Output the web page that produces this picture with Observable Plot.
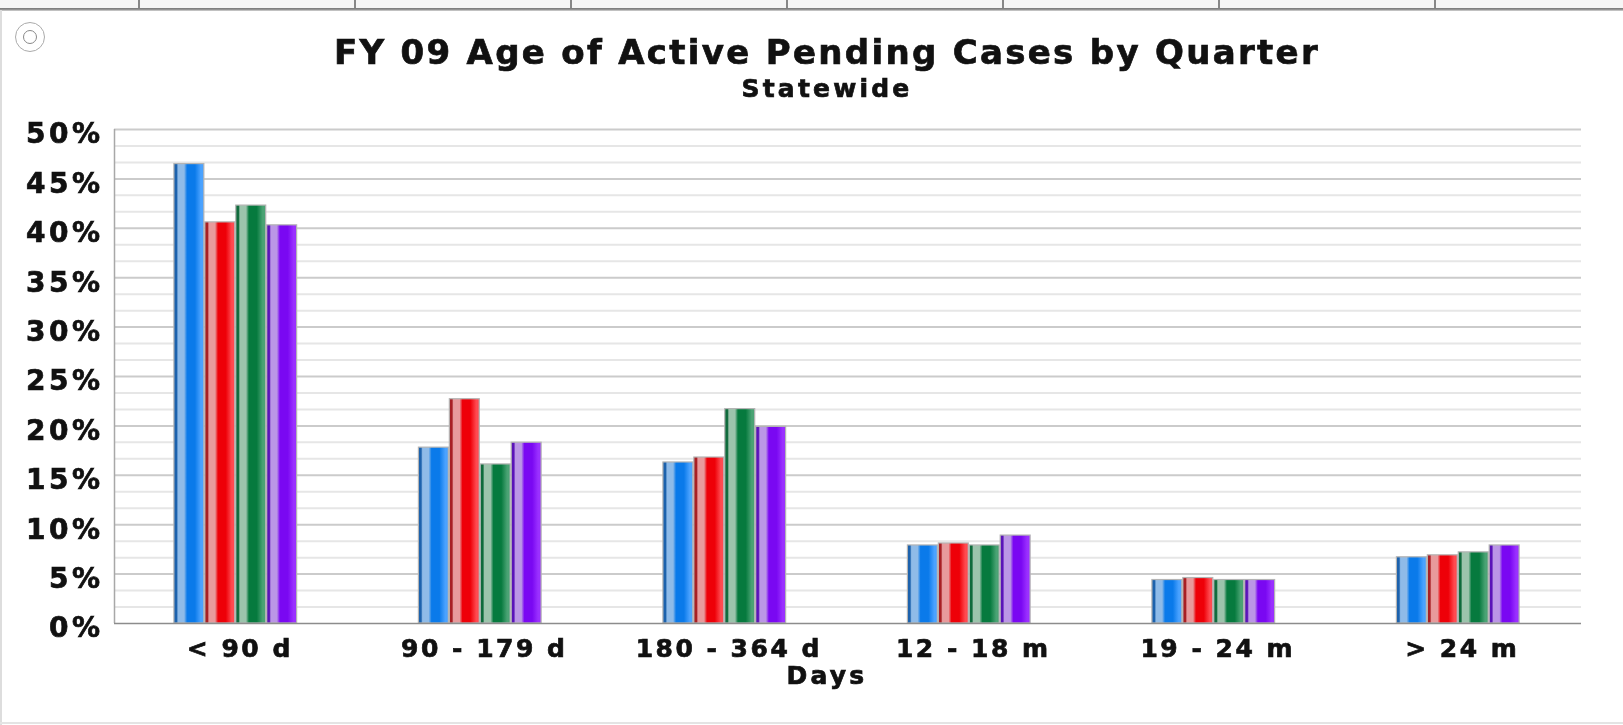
<!DOCTYPE html>
<html>
<head>
<meta charset="utf-8">
<script src="https://cdn.jsdelivr.net/npm/d3@7"></script>
<script src="https://cdn.jsdelivr.net/npm/@observablehq/plot@0.6"></script>
<style>
html,body{margin:0;padding:0;background:#fff;width:1623px;height:725px;overflow:hidden}
#page{position:relative;width:1623px;height:725px;font-family:"DejaVu Sans",sans-serif;font-weight:bold;color:#111;filter:blur(0.7px)}
#page>svg{position:absolute;left:0;top:0}
#page svg [aria-label="y-axis tick label"]{letter-spacing:3.5px;stroke:#111;stroke-width:0.7px}
#page svg [aria-label="x-axis tick label"]{letter-spacing:2.5px;stroke:#111;stroke-width:0.7px}
.abs{position:absolute;white-space:nowrap}
.ctr{transform:translateX(-50%);-webkit-text-stroke:0.7px #111}
#topband{left:0;top:0;width:1623px;height:8px;background:#f6f6f6}
#topline{left:0;top:8px;width:1623px;height:3px;background:linear-gradient(#777,#999 60%,#ddd)}
#leftline{left:0;top:10px;width:2px;height:715px;background:#ddd}
#botline{left:0;top:722px;width:1623px;height:2px;background:#e4e4e4}
.tab{top:0;width:2px;height:9px;background:#888}
#icon{left:15px;top:22px;width:28px;height:28px;border:1px solid #aaa;border-radius:50%}
#icon div{position:absolute;left:7px;top:7px;width:12px;height:12px;border:1px solid #888;border-radius:50%}
#title{left:827px;top:33px;font-size:34px;letter-spacing:2.3px;line-height:38px}
#subtitle{left:827px;top:75px;font-size:25px;letter-spacing:3.2px;line-height:28px}
#xtitle{left:827px;top:662px;font-size:25px;letter-spacing:3.2px;line-height:28px}
</style>
</head>
<body>
<div id="page"></div>
<script>
const titleText = "FY 09 Age of Active Pending Cases by Quarter";
const subtitleText = "Statewide";
const xTitle = "Days";
const categories = ["< 90 d", "90 - 179 d", "180 - 364 d", "12 - 18 m", "19 - 24 m", "> 24 m"];
const quarters = ["Q1", "Q2", "Q3", "Q4"];
const q1 = [46.5, 17.8, 16.3, 7.9, 4.4, 6.7];
const q2 = [40.6, 22.7, 16.8, 8.1, 4.6, 6.9];
const q3 = [42.3, 16.1, 21.7, 7.9, 4.4, 7.2];
const q4 = [40.3, 18.3, 19.9, 8.9, 4.4, 7.9];
const majorTicks = [0, 5, 10, 15, 20, 25, 30, 35, 40, 45, 50];
const minorTicks = majorTicks.slice(0, -1).flatMap(t => [t + 5 / 3, t + 10 / 3]);
const topTabs = [138, 354, 570, 786, 1002, 1218, 1434];

const series = [q1, q2, q3, q4];
const barWidth = 0.1265;
const groupStart = 0.243;
const rows = quarters.flatMap((q, i) => categories.map((c, j) => ({
  quarter: q,
  start: j + groupStart + i * barWidth,
  end: j + groupStart + (i + 1) * barWidth,
  value: series[i][j]
})));

const gradients = {
  Q1: ["#1c62ad", "#8fbbe8", "#0a7aea", "#4aa2ff"],
  Q2: ["#a81f24", "#e89a9c", "#ee0008", "#ff4a50"],
  Q3: ["#0f6b3c", "#9cc4ac", "#067a3e", "#4aa374"],
  Q4: ["#5a14b8", "#bb96e6", "#7a08f2", "#9a30ff"]
};

const page = document.getElementById("page");
const add = (id, cls, text) => {
  const d = document.createElement("div");
  if (id) d.id = id;
  d.className = cls;
  if (text) d.textContent = text;
  page.appendChild(d);
  return d;
};
add("topband", "abs");
topTabs.forEach(x => { add("", "abs tab").style.left = x + "px"; });
add("topline", "abs");
add("leftline", "abs");
add("botline", "abs");
add("icon", "abs").appendChild(document.createElement("div"));

const chart = Plot.plot({
  width: 1623,
  height: 725,
  marginLeft: 114,
  marginRight: 42,
  marginTop: 129,
  marginBottom: 102,
  style: {background: "transparent", fontFamily: "'DejaVu Sans', sans-serif", fontWeight: "bold", color: "#111", overflow: "visible"},
  x: {domain: [0, categories.length], label: null},
  y: {domain: [0, 50], label: null},
  color: {domain: quarters, range: quarters.map(q => `url(#grad-${q})`)},
  marks: [
    Plot.ruleY(minorTicks, {stroke: "#e6e6e6", strokeWidth: 2}),
    Plot.ruleY(majorTicks.filter(t => t > 0), {stroke: "#cbcbcb", strokeWidth: 2}),
    Plot.axisY({ticks: majorTicks, tickFormat: d => d + "%", tickSize: 0, tickPadding: 11, fontSize: 28, dy: 5, label: null}),
    Plot.axisX({ticks: categories.map((c, i) => i + 0.5), tickFormat: d => categories[Math.floor(d)], tickSize: 0, tickPadding: 16, fontSize: 25, dx: 3, label: null}),
    Plot.rectY(rows, {x1: "start", x2: "end", y: "value", fill: "quarter", stroke: "#b4b4b4", strokeWidth: 1.2, insetLeft: 0.5, insetRight: 0.5}),
    Plot.ruleX([0], {stroke: "#a8a8a8", strokeWidth: 1.5}),
    Plot.ruleY([0], {stroke: "#8c8c8c", strokeWidth: 1.5})
  ]
});

const ns = "http://www.w3.org/2000/svg";
const defs = document.createElementNS(ns, "defs");
quarters.forEach(q => {
  const [edge, light, core, right] = gradients[q];
  const g = document.createElementNS(ns, "linearGradient");
  g.setAttribute("id", "grad-" + q);
  g.setAttribute("x1", "0"); g.setAttribute("x2", "1"); g.setAttribute("y1", "0"); g.setAttribute("y2", "0");
  [[0, edge], [0.09, edge], [0.14, light], [0.34, light], [0.44, core], [0.7, core], [0.9, right], [1, right]].forEach(([o, c]) => {
    const s = document.createElementNS(ns, "stop");
    s.setAttribute("offset", o);
    s.setAttribute("stop-color", c);
    g.appendChild(s);
  });
  defs.appendChild(g);
});
chart.insertBefore(defs, chart.firstChild);
page.appendChild(chart);

add("title", "abs ctr", titleText);
add("subtitle", "abs ctr", subtitleText);
add("xtitle", "abs ctr", xTitle);
</script>
</body>
</html>
